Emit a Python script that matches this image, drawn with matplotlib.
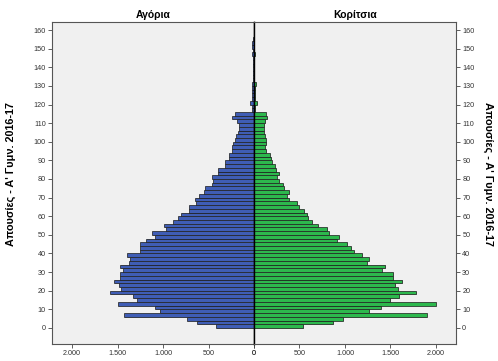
import matplotlib
matplotlib.use("Agg")
import matplotlib.pyplot as plt
import matplotlib.patheffects as pe

plt.rcParams['font.family'] = ['Liberation Sans', 'DejaVu Sans']

# absences binned in steps of 2 (bin start values)
bin_starts = list(range(0, 156, 2))

# boys counts per bin
boys = [418, 626, 736, 1428, 1037, 1084, 1494, 1282, 1330, 1579,
        1461, 1480, 1542, 1469, 1469, 1443, 1469, 1374, 1363, 1399,
        1253, 1253, 1249, 1183, 1084, 1121, 963, 985, 890, 831,
        802, 714, 711, 637, 652, 608, 546, 538, 465, 451,
        462, 399, 392, 315, 315, 271, 278, 242, 242, 227,
        212, 201, 172, 165, 165, 183, 245, 205, 20, 25,
        40, 25, 22, 18, 22, 25, 12, 10, 10, 12,
        15, 10, 12, 18, 10, 22, 18, 8]

# girls counts per bin
girls = [542, 872, 982, 1897, 1267, 1392, 1996, 1494, 1590, 1780,
         1579, 1553, 1626, 1531, 1524, 1403, 1443, 1238, 1260, 1190,
         1103, 1066, 1026, 908, 938, 828, 799, 707, 634, 590,
         586, 549, 491, 469, 388, 359, 388, 333, 322, 278,
         249, 275, 245, 227, 194, 190, 172, 136, 117, 132,
         128, 117, 106, 106, 114, 121, 147, 128, 15, 15,
         35, 10, 10, 8, 10, 18, 5, 5, 5, 5,
         5, 5, 5, 12, 5, 5, 5, 0]

x_ticks = [0, 500, 1000, 1500, 2000]
x_tick_labels = ['0', '500', '1.000', '1.500', '2.000']
y_ticks = list(range(0, 161, 10))
y_label = "Απουσίες - Α' Γυμν. 2016-17"

W, H = 498, 361
fig = plt.figure(figsize=(W / 100, H / 100), dpi=100)
ax_l = fig.add_axes([52 / W, 17 / H, 202 / W, 322 / H])
ax_r = fig.add_axes([254 / W, 17 / H, 202 / W, 322 / H])

shadow = [pe.SimplePatchShadow(offset=(0.6, -0.6), shadow_rgbFace='#888888', alpha=0.5), pe.Normal()]

ax_l.barh(bin_starts, boys, height=2, align='edge', color='#3f5db5',
          edgecolor='#1a1a1a', linewidth=0.5, path_effects=shadow)
ax_r.barh(bin_starts, girls, height=2, align='edge', color='#2db84d',
          edgecolor='#1a1a1a', linewidth=0.5, path_effects=shadow)

ax_l.set_xlim(2220, 0)
ax_r.set_xlim(0, 2220)

for ax in (ax_l, ax_r):
    ax.set_facecolor('#f0f0f0')
    ax.set_ylim(-8.6, 164.3)
    ax.set_yticks(y_ticks)
    ax.set_xticks(x_ticks)
    ax.set_xticklabels(x_tick_labels)
    ax.tick_params(axis='both', labelsize=5.2, length=3, width=0.6,
                   color='#444444', labelcolor='#333333', pad=1.5)
    for s in ax.spines.values():
        s.set_color('#555555')
        s.set_linewidth(0.8)

ax_r.yaxis.tick_right()
ax_l.spines['right'].set_color('black')
ax_l.spines['right'].set_linewidth(1.0)
ax_r.spines['left'].set_color('black')
ax_r.spines['left'].set_linewidth(1.0)

ax_l.set_title('Αγόρια', fontsize=7.5, fontweight='bold', pad=3)
ax_r.set_title('Κορίτσια', fontsize=7.5, fontweight='bold', pad=3)

fig.text(11 / W, 1 - 174 / H, y_label, rotation=90, ha='center', va='center',
         fontsize=7.8, fontweight='bold')
fig.text(488 / W, 1 - 174 / H, y_label, rotation=270, ha='center', va='center',
         fontsize=7.8, fontweight='bold')

fig.savefig('out.png', dpi=100)
